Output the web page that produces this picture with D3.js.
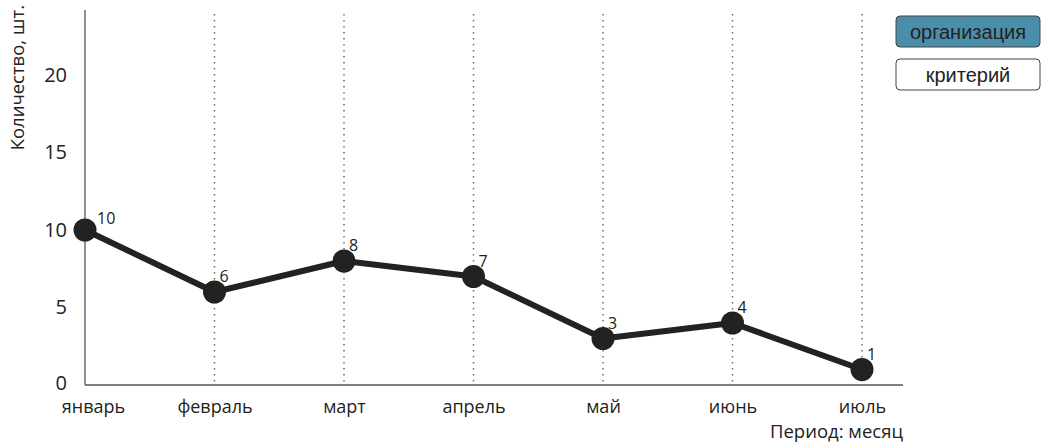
<!DOCTYPE html>
<html>
<head>
<meta charset="utf-8">
<script src="https://cdn.jsdelivr.net/npm/d3@7/dist/d3.min.js"></script>
<style>
  html, body { margin: 0; padding: 0; background: #fff; }
  svg { display: block; font-family: "Open Sans", "Noto Sans", sans-serif; }
</style>
</head>
<body>
<svg id="chart" width="1044" height="448"></svg>
<script>
// Monthly counts
const months = ["январь", "февраль", "март", "апрель", "май", "июнь", "июль"];
const counts = [10, 6, 8, 7, 3, 4, 1];
const yTicks = [0, 5, 10, 15, 20];
const legendItems = ["организация", "критерий"];
const legendColors = ["#4b8ea9", "#ffffff"];

const svg = d3.select("#chart");
const margin = { left: 85, right: 903, top: 13, bottom: 385 };

const x = d3.scalePoint().domain(months).range([margin.left, 862]);
const y = d3.scaleLinear().domain([0, 24]).range([margin.bottom, margin.top]);

// dotted month guides
svg.append("g").selectAll("line")
  .data(months.slice(1))
  .join("line")
  .attr("x1", d => x(d)).attr("x2", d => x(d))
  .attr("y1", y(24) + 1).attr("y2", y(0))
  .attr("stroke", "#666").attr("stroke-width", 1.4)
  .attr("stroke-dasharray", "1.5,4.5");

// y axis
const yAxis = svg.append("g")
  .attr("transform", `translate(${margin.left},0)`)
  .call(d3.axisLeft(y).tickValues(yTicks).tickSize(0).tickPadding(18));
yAxis.select(".domain").attr("stroke", "#555").attr("stroke-width", 1.3)
  .attr("d", `M0,${y(24) - 3}V${y(0)}`);
yAxis.selectAll("text").attr("font-size", 20).attr("fill", "#222")
  .attr("font-family", "Open Sans, sans-serif")
  .attr("dy", d => d === 0 ? "0.2em" : "0.32em");

// x axis
const xAxis = svg.append("g")
  .attr("transform", `translate(0,${y(0)})`)
  .call(d3.axisBottom(x).tickSize(0).tickPadding(15));
xAxis.select(".domain").attr("stroke", "#555").attr("stroke-width", 1.5)
  .attr("d", `M${margin.left},0H${margin.right}`);
xAxis.selectAll("text").attr("font-size", 18).attr("fill", "#222")
  .attr("font-family", "Open Sans, sans-serif")
  .attr("dx", (d, i) => i === 0 ? 8 : 0);

// axis titles
svg.append("text")
  .attr("transform", `translate(24,5) rotate(-90)`)
  .attr("text-anchor", "end")
  .attr("font-size", 18.5).attr("fill", "#222")
  .text("Количество, шт.");

svg.append("text")
  .attr("x", margin.right).attr("y", 438)
  .attr("text-anchor", "end")
  .attr("font-size", 18.5).attr("fill", "#222")
  .text("Период: месяц");

// series line
const data = months.map((m, i) => ({ m, v: counts[i] }));
svg.append("path")
  .datum(data)
  .attr("fill", "none")
  .attr("stroke", "#222")
  .attr("stroke-width", 6)
  .attr("stroke-linejoin", "round")
  .attr("d", d3.line().x(d => x(d.m)).y(d => y(d.v)));

svg.append("g").selectAll("circle")
  .data(data)
  .join("circle")
  .attr("cx", d => x(d.m)).attr("cy", d => y(d.v))
  .attr("r", 11.5).attr("fill", "#222");

svg.append("g").selectAll("text")
  .data(data)
  .join("text")
  .attr("x", d => x(d.m) + (d.v >= 10 ? 12 : 5))
  .attr("y", d => y(d.v) - (d.v >= 10 ? 6 : 10))
  .attr("font-size", 16).attr("fill", "#222")
  .text(d => d.v);

// legend
const lg = svg.append("g").selectAll("g")
  .data(legendItems)
  .join("g")
  .attr("transform", (d, i) => `translate(896,${16 + i * 43})`);
lg.append("rect")
  .attr("width", 144).attr("height", 31).attr("rx", 4)
  .attr("fill", (d, i) => legendColors[i])
  .attr("stroke", "#444").attr("stroke-width", 1);
lg.append("text")
  .attr("x", 72).attr("y", 23)
  .attr("text-anchor", "middle")
  .attr("font-family", "Liberation Sans, Arial, sans-serif")
  .attr("font-size", 20).attr("fill", "#222")
  .text(d => d);
</script>
</body>
</html>
